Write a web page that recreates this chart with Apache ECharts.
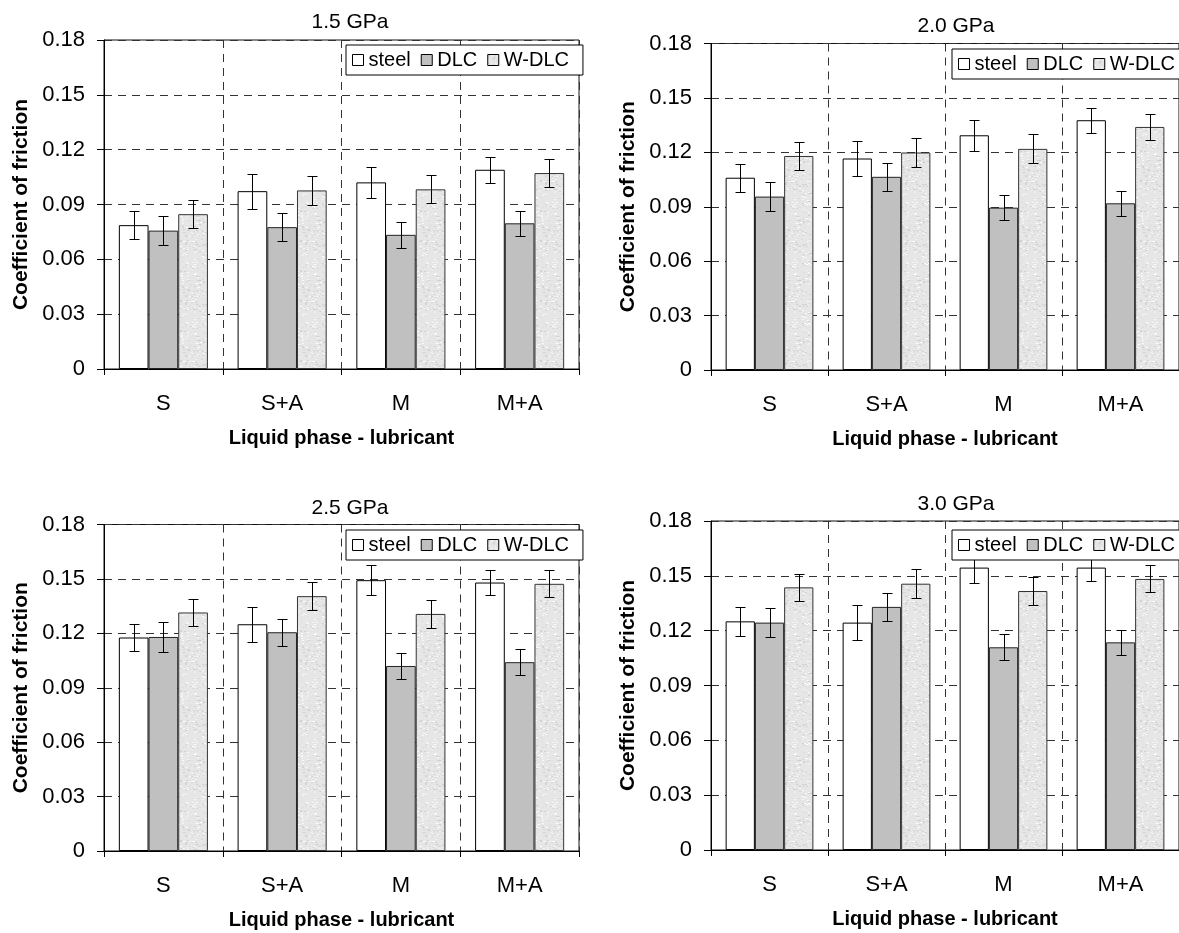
<!DOCTYPE html>
<html>
<head>
<meta charset="utf-8">
<title>Coefficient of friction</title>
<script src="https://cdn.jsdelivr.net/npm/echarts@6/dist/echarts.min.js"></script>
<style>
  html, body { margin: 0; padding: 0; background: #fff; }
  #chart { width: 1179px; height: 933px; }
</style>
</head>
<body>
<div id="chart"></div>
<script>
// ---- data ----
const categories = ['S', 'S+A', 'M', 'M+A'];
const materials = ['steel', 'DLC', 'W-DLC'];
const pressures = ['1.5 GPa', '2.0 GPa', '2.5 GPa', '3.0 GPa'];
const yTickLabels = ['0', '0.03', '0.06', '0.09', '0.12', '0.15', '0.18'];

// mean coefficient of friction: rows = steel, DLC, W-DLC; columns = S, S+A, M, M+A
const cof15 = [
  [0.0787, 0.0973, 0.1021, 0.1090],
  [0.0757, 0.0776, 0.0734, 0.0797],
  [0.0847, 0.0977, 0.0983, 0.1072]
];
const err15 = [
  [0.0077, 0.0096, 0.0085, 0.0071],
  [0.0080, 0.0078, 0.0071, 0.0067],
  [0.0075, 0.0080, 0.0077, 0.0075]
];
const cof20 = [
  [0.1060, 0.1166, 0.1294, 0.1377],
  [0.0956, 0.1065, 0.0895, 0.0919],
  [0.1180, 0.1199, 0.1219, 0.1340]
];
const err20 = [
  [0.0078, 0.0097, 0.0085, 0.0070],
  [0.0080, 0.0077, 0.0070, 0.0068],
  [0.0077, 0.0080, 0.0080, 0.0074]
];
const cof25 = [
  [0.1177, 0.1250, 0.1493, 0.1480],
  [0.1180, 0.1206, 0.1020, 0.1041],
  [0.1315, 0.1405, 0.1307, 0.1473]
];
const err25 = [
  [0.0076, 0.0097, 0.0082, 0.0071],
  [0.0083, 0.0074, 0.0071, 0.0071],
  [0.0077, 0.0079, 0.0078, 0.0074]
];
const cof30 = [
  [0.1251, 0.1244, 0.1545, 0.1545],
  [0.1244, 0.1330, 0.1109, 0.1136],
  [0.1437, 0.1457, 0.1417, 0.1483]
];
const err30 = [
  [0.0078, 0.0096, 0.0085, 0.0071],
  [0.0079, 0.0077, 0.0071, 0.0069],
  [0.0075, 0.0080, 0.0077, 0.0074]
];
const panelValues = [cof15, cof20, cof25, cof30];
const panelErrors = [err15, err20, err25, err30];

// ---- layout of the four panels ----
const panels = [
  { left: 104, top: 40,    width: 475, height: 329,   titleX: 345, titleY: 7,   legendX: 346, legendY: 45 },
  { left: 711, top: 43.5,  width: 476, height: 326.5, titleX: 951, titleY: 11,  legendX: 952, legendY: 49 },
  { left: 104, top: 524.5, width: 475, height: 326.5, titleX: 345, titleY: 493, legendX: 346, legendY: 530 },
  { left: 711, top: 521,   width: 476, height: 329,   titleX: 951, titleY: 489, legendX: 952, legendY: 530 }
];

const FONT = '"Liberation Sans", Arial, Helvetica, sans-serif';
const CAT_GAP = 0.25;

// speckled light-grey fill for the W-DLC bars
function speckle() {
  const c = document.createElement('canvas');
  c.width = 60; c.height = 60;
  const ctx = c.getContext('2d');
  let s = 12345;
  const next = () => { s = (s * 1103515245 + 12345) & 0x7fffffff; return s / 0x7fffffff; };
  ctx.fillStyle = '#e6e6e6';
  ctx.fillRect(0, 0, 60, 60);
  for (let n = 0; n < 520; n++) {
    const x = Math.floor(next() * 60), y = Math.floor(next() * 60);
    const g = Math.round(205 + next() * 50);
    ctx.fillStyle = 'rgb(' + g + ',' + g + ',' + g + ')';
    ctx.fillRect(x, y, 2, 1);
  }
  return c;
}
const speckleCanvas = speckle();

const fills = [
  '#ffffff',
  '#c0c0c0',
  { image: speckleCanvas, repeat: 'repeat' }
];
const borders = ['#000000', '#222222', '#333333'];

function errorBarRenderer(k) {
  return function (params, api) {
    const i = api.value(0), v = api.value(1), e = api.value(2);
    const c = api.coord([i, v]);
    const band = api.size([1, 0])[0];
    const bw = band * (1 - CAT_GAP) / 3;
    const x = Math.round(c[0] + (k - 1) * bw) + 0.5;
    const yt = Math.round(api.coord([i, v + e])[1]) + 0.5;
    const yb = Math.round(api.coord([i, v - e])[1]) + 0.5;
    const cap = 5;
    const st = { stroke: '#000', lineWidth: 1 };
    return {
      type: 'group',
      children: [
        { type: 'line', shape: { x1: x, y1: yt, x2: x, y2: yb }, style: st },
        { type: 'line', shape: { x1: x - cap, y1: yt, x2: x + cap, y2: yt }, style: st },
        { type: 'line', shape: { x1: x - cap, y1: yb, x2: x + cap, y2: yb }, style: st }
      ]
    };
  };
}

const grid = [], xAxis = [], yAxis = [], series = [], title = [], legend = [];

panels.forEach((p, pi) => {
  grid.push({
    left: p.left, top: p.top, width: p.width, height: p.height,
    show: true, borderColor: '#111', borderWidth: 1, backgroundColor: 'transparent',
    containLabel: false
  });
  xAxis.push({
    type: 'category', gridIndex: pi, data: categories,
    boundaryGap: true,
    name: 'Liquid phase - lubricant', nameLocation: 'middle', nameGap: 59,
    nameTextStyle: { fontFamily: FONT, fontSize: 20, fontWeight: 'bold', color: '#000' },
    axisLine: { show: true, lineStyle: { color: '#000', width: 1 } },
    axisTick: { show: true, length: 6, inside: false, alignWithLabel: false, lineStyle: { color: '#000' } },
    axisLabel: { margin: 24, fontFamily: FONT, fontSize: 22, color: '#000' },
    splitLine: { show: true, interval: 0, lineStyle: { color: '#333', type: [8, 6], width: 1 } }
  });
  yAxis.push({
    type: 'value', gridIndex: pi, min: 0, max: 0.18, interval: 0.03,
    name: 'Coefficient of friction', nameLocation: 'middle', nameGap: 72,
    nameTextStyle: { fontFamily: FONT, fontSize: 21, fontWeight: 'bold', color: '#000' },
    axisLine: { show: true, lineStyle: { color: '#000', width: 1 } },
    axisTick: { show: true, length: 7, inside: false, lineStyle: { color: '#000' } },
    axisLabel: {
      margin: 19, fontFamily: FONT, fontSize: 22, color: '#000',
      formatter: (v) => yTickLabels[Math.round(v / 0.03)]
    },
    splitLine: { show: true, lineStyle: { color: '#333', type: [8, 6], width: 1 } }
  });
  title.push({
    text: pressures[pi], left: p.titleX, top: p.titleY, textAlign: 'center',
    textStyle: { fontFamily: FONT, fontSize: 21, fontWeight: 'normal', color: '#000' }
  });
  legend.push({
    data: materials, left: p.legendX, top: p.legendY, width: 320, orient: 'horizontal',
    icon: 'rect', itemWidth: 11, itemHeight: 11, itemGap: 10,
    padding: [4, 14, 4, 6],
    backgroundColor: '#fff', borderColor: '#000', borderWidth: 1, borderRadius: 0,
    selectedMode: false,
    itemStyle: { borderColor: '#000', borderWidth: 1 },
    textStyle: { fontFamily: FONT, fontSize: 20, color: '#000', lineHeight: 22 },
    z: 10
  });

  materials.forEach((m, k) => {
    series.push({
      type: 'bar', name: m, xAxisIndex: pi, yAxisIndex: pi,
      data: panelValues[pi][k],
      barGap: '0%', barCategoryGap: (CAT_GAP * 100) + '%',
      itemStyle: { color: fills[k], borderColor: borders[k], borderWidth: 1 },
      emphasis: { disabled: true },
      z: 2
    });
  });
  materials.forEach((m, k) => {
    series.push({
      type: 'custom', name: m + ' error', xAxisIndex: pi, yAxisIndex: pi,
      data: categories.map((c, i) => [i, panelValues[pi][k][i], panelErrors[pi][k][i]]),
      renderItem: errorBarRenderer(k),
      silent: true,
      z: 3
    });
  });
});

const chart = echarts.init(document.getElementById('chart'), null, { renderer: 'canvas' });
chart.setOption({
  animation: false,
  backgroundColor: '#fff',
  title, legend, grid, xAxis, yAxis, series,
  tooltip: { show: false }
});
</script>
</body>
</html>
